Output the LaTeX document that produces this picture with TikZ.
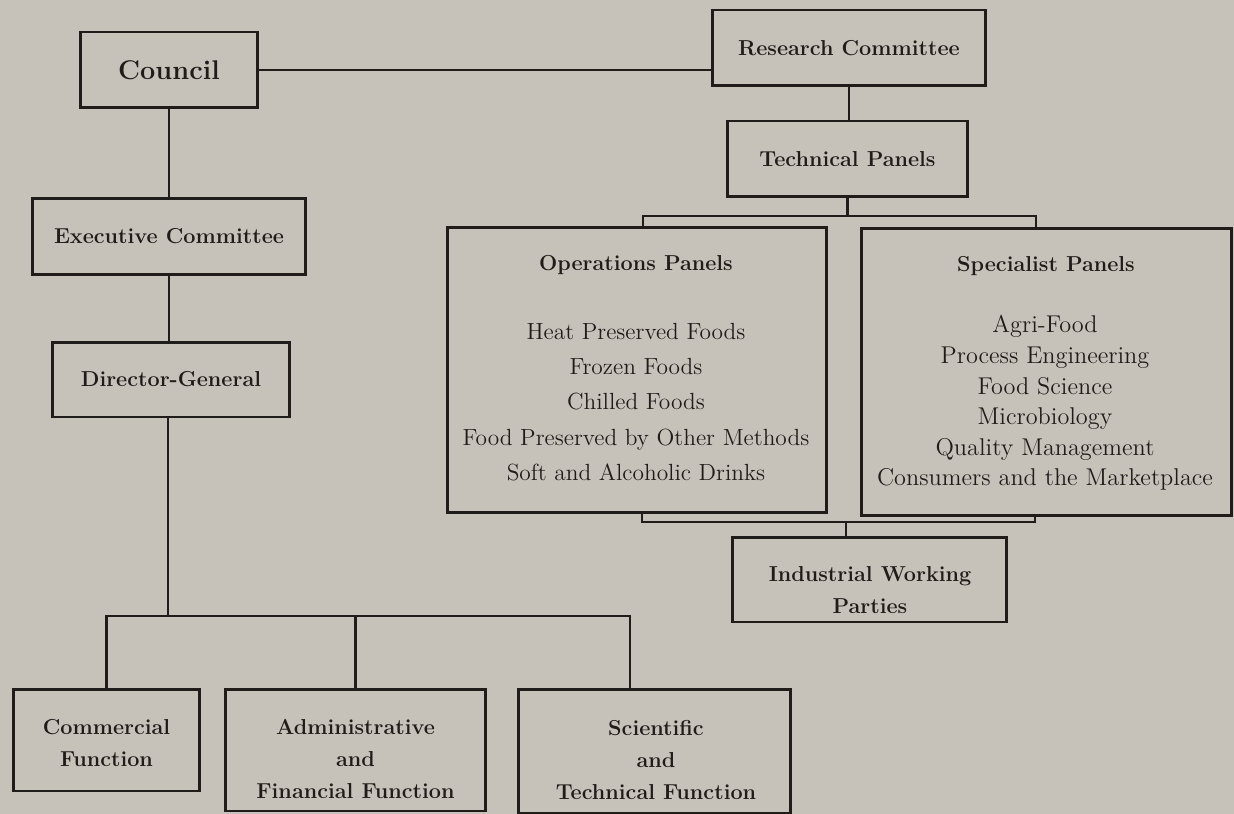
\documentclass[tikz,border=0pt]{standalone}
\usepackage{tikz}
\usetikzlibrary{calc}
\definecolor{paper}{RGB}{199,194,185}
\definecolor{ink}{RGB}{32,28,26}
\newcommand{\headfont}{\bfseries\fontsize{12.3}{18.2}\selectfont}
\tikzset{
	unit/.style={draw=ink, line width=1.7pt, inner sep=0pt, font=\headfont, text=ink, align=center},
	panel/.style={draw=ink, line width=1.7pt, inner sep=0pt},
	tag/.style={inner sep=0pt, font=\headfont, text=ink, align=center},
	link/.style={draw=ink, line width=1.35pt},
}

\begin{document}
\begin{tikzpicture}[x=0.02cm, y=-0.02cm]
		\fill[paper] (0,0) rectangle (1234,814);
		\useasboundingbox (0,0) rectangle (1234,814);
		
		\node[unit, minimum width=3.56cm, minimum height=1.52cm, font=\bfseries\fontsize{15.4}{18}\selectfont] (council) at (169,70) {Council};
		\node[unit, minimum width=5.48cm, minimum height=1.52cm] (research) at (849,48) {Research Committee};
		\node[unit, minimum width=4.82cm, minimum height=1.52cm] (technical) at (847.5,159) {Technical Panels};
		\node[unit, minimum width=5.48cm, minimum height=1.54cm] (exec) at (169,236.5) {Executive Committee};
		\node[unit, minimum width=4.76cm, minimum height=1.50cm] (dg) at (171,379.5) {Director-General};
		
		\node[panel, minimum width=7.60cm, minimum height=5.72cm] (ops) at (637,370) {};
		\node[tag] (opstitle) at (636,265) {Operations Panels};
		\node[tag, font=\fontsize{13.3}{20.1}\selectfont] (opslist) at (636,402) {Heat Preserved Foods\\Frozen Foods\\Chilled Foods\\Food Preserved by Other Methods\\Soft and Alcoholic Drinks};
		
		\node[panel, minimum width=7.42cm, minimum height=5.76cm] (spec) at (1046.5,372) {};
		\node[tag] (spectitle) at (1046,266) {Specialist Panels};
		\node[tag, font=\fontsize{13.8}{17.4}\selectfont] (speclist) at (1045,403) {Agri-Food\\Process Engineering\\Food Science\\Microbiology\\Quality Management\\Consumers and the Marketplace};
		
		\node[panel, minimum width=5.50cm, minimum height=1.70cm] (iwp) at (869.5,579.5) {};
		\node[tag] (iwptext) at (870,590) {Industrial Working\\Parties};
		
		\node[panel, minimum width=3.74cm, minimum height=2.04cm] (comm) at (106.5,740) {};
		\node[tag] (commtext) at (106.5,743) {Commercial\\Function};
		\node[panel, minimum width=5.22cm, minimum height=2.44cm] (admin) at (355.5,750) {};
		\node[tag] (admintext) at (355.5,759) {Administrative\\and\\Financial Function};
		\node[panel, minimum width=5.46cm, minimum height=2.48cm] (sci) at (654.5,751) {};
		\node[tag] (scitext) at (656,760) {Scientific\\and\\Technical Function};
		
		\coordinate (opsjoin) at (643,216);
		\coordinate (specjoin) at (1036,216);
		\coordinate (opsfoot) at (642,522);
		\coordinate (specfoot) at (1035,522);
		\coordinate (iwpjoin) at (846,522);
		\coordinate (funcfork) at (168,616);
		\coordinate (funcleft) at (107,616);
		\coordinate (funcright) at (630,616);
		
		\draw[link] (council.east) -- (council.east -| research.west);
		\draw[link] (council.south) -- (council.south |- exec.north);
		\draw[link] (exec.south) -- (exec.south |- dg.north);
		\draw[link] (research.south) -- (research.south |- technical.north);
		\draw[link] (technical.south) -- (technical.south |- opsjoin);
		\draw[link] (opsjoin |- ops.north) -- (opsjoin) -- (specjoin) -- (specjoin |- spec.north);
		\draw[link] (opsfoot |- ops.south) -- (opsfoot) -- (specfoot) -- (specfoot |- spec.south);
		\draw[link] (iwpjoin) -- (iwpjoin |- iwp.north);
		\draw[link] (funcfork |- dg.south) -- (funcfork);
		\draw[link] (comm.north) -- (comm.north |- funcleft) -- (funcright) -- (funcright |- sci.north);
		\draw[link] (admin.north) -- (admin.north |- funcleft);
	\end{tikzpicture}
\end{document}
